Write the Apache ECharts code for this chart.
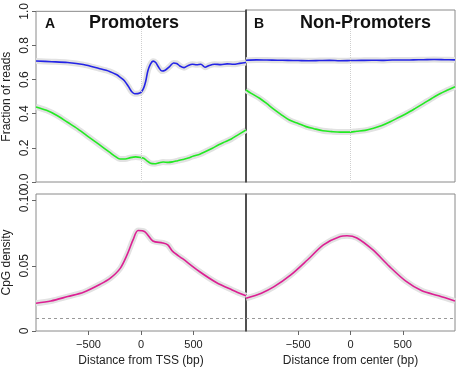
<!DOCTYPE html>
<html>
<head>
<meta charset="utf-8">
<script src="https://cdn.jsdelivr.net/npm/echarts@6/dist/echarts.min.js"></script>
<style>
  html, body { margin: 0; padding: 0; background: #fff; }
  #main { width: 459px; height: 370px; }
</style>
</head>
<body>
<div id="main"></div>
<script>
// distance (bp) and value pairs
const promBlue = [[-1000,0.709],[-850,0.705],[-700,0.70],[-550,0.688],[-400,0.665],[-300,0.648],[-230,0.628],[-200,0.615],
  [-160,0.595],[-120,0.56],[-90,0.53],[-60,0.517],[-30,0.518],[0,0.525],[25,0.55],[45,0.59],[65,0.65],[90,0.69],[115,0.708],
  [140,0.70],[165,0.675],[200,0.65],[230,0.655],[270,0.675],[310,0.697],[340,0.695],[370,0.68],[410,0.67],[450,0.683],
  [490,0.69],[530,0.687],[570,0.69],[610,0.672],[650,0.683],[700,0.69],[760,0.688],[820,0.692],[880,0.69],[940,0.695],[1000,0.70]];
const promGreen = [[-1000,0.44],[-900,0.42],[-800,0.39],[-700,0.35],[-600,0.31],[-500,0.265],[-400,0.22],[-300,0.175],
  [-250,0.152],[-200,0.135],[-150,0.135],[-100,0.143],[-50,0.147],[0,0.143],[30,0.138],[60,0.122],[90,0.11],[130,0.107],
  [170,0.112],[210,0.117],[260,0.115],[300,0.118],[350,0.125],[400,0.132],[450,0.14],[500,0.152],[560,0.163],[620,0.18],
  [680,0.198],[740,0.218],[800,0.235],[860,0.252],[920,0.275],[1000,0.305]];
const nonBlue = [[-1000,0.708],[-900,0.71],[-800,0.709],[-700,0.708],[-600,0.707],[-500,0.706],[-400,0.705],[-300,0.706],
  [-200,0.707],[-100,0.705],[0,0.706],[100,0.707],[200,0.708],[300,0.707],[400,0.709],[500,0.709],[600,0.71],[700,0.711],
  [800,0.712],[900,0.711],[1000,0.71]];
const nonGreen = [[-1000,0.535],[-950,0.515],[-870,0.487],[-800,0.455],[-745,0.428],[-670,0.395],[-585,0.36],[-500,0.34],
  [-425,0.322],[-350,0.31],[-265,0.298],[-180,0.293],[-100,0.29],[-20,0.29],[60,0.295],[140,0.30],[220,0.312],[300,0.328],
  [380,0.35],[460,0.375],[540,0.40],[620,0.428],[700,0.457],[780,0.487],[860,0.515],[930,0.535],[1000,0.554]];
const promCpG = [[-1000,0.0213],[-858,0.023],[-698,0.0264],[-547,0.0297],[-387,0.0359],[-292,0.0405],[-198,0.048],
  [-132,0.0585],[-75,0.07],[-28,0.077],[38,0.076],[113,0.069],[207,0.0675],[255,0.066],[302,0.061],[396,0.0554],
  [556,0.0456],[717,0.0372],[868,0.0315],[1000,0.027]];
const nonCpG = [[-1000,0.0251],[-853,0.029],[-731,0.034],[-571,0.043],[-410,0.0546],[-259,0.066],[-99,0.0725],[-33,0.073],
  [61,0.0713],[212,0.0623],[372,0.0495],[533,0.038],[683,0.0308],[844,0.027],[1000,0.023]];
const cpgBackground = 0.009;
const fracTicks = [0, 0.2, 0.4, 0.6, 0.8, 1.0];
const cpgTicks = [0, 0.05, 0.1];
const distTicks = [-500, 0, 500];

const font = "'Liberation Sans', Arial, sans-serif";
const blue = '#2424e6', green = '#22ea22', pink = '#dc1f93';

const grids = [
  { left: 36, top: 10, width: 210, height: 172 },
  { left: 246, top: 10, width: 209, height: 172 },
  { left: 36, top: 194, width: 210, height: 137 },
  { left: 246, top: 194, width: 209, height: 137 }
].map(g => Object.assign(g, { show: true, borderColor: '#8a8a8a', borderWidth: 1 }));

function xAx(i, name) {
  const bottom = i >= 2;
  return {
    type: 'value', gridIndex: i, min: -1000, max: 1000,
    name: bottom ? name : '', nameLocation: 'middle', nameGap: 24,
    nameTextStyle: { fontFamily: font, fontSize: 12, color: '#222' },
    axisLine: { show: false, onZero: false }, splitLine: { show: false },
    axisTick: { show: bottom, length: 4, lineStyle: { color: '#666' }, customValues: distTicks },
    axisLabel: { show: bottom, fontFamily: font, fontSize: 11, color: '#222', margin: 8,
      customValues: distTicks, formatter: v => v < 0 ? '\u2212' + Math.abs(v) : String(v) }
  };
}
function yAx(i) {
  const top = i < 2, left = i % 2 === 0;
  const ticks = top ? fracTicks : cpgTicks;
  return {
    type: 'value', gridIndex: i, min: 0, max: top ? 1 : 0.105,
    name: left ? (top ? 'Fraction of reads' : 'CpG density') : '',
    nameLocation: 'middle', nameGap: 23,
    nameTextStyle: { fontFamily: font, fontSize: 12, color: '#222' },
    axisLine: { show: !left, onZero: false, lineStyle: { color: '#333', width: 1.5 } },
    splitLine: { show: false },
    axisTick: { show: left, length: 4, lineStyle: { color: '#666' }, customValues: ticks },
    axisLabel: { show: left, rotate: 90, fontFamily: font, fontSize: 12, color: '#222', margin: 5,
      customValues: ticks, formatter: v => top ? v.toFixed(1) : (v === 0 ? '0' : v.toFixed(2)) }
  };
}

// thin coloured line over a pale grey halo standing in for the confidence band
function curve(i, data, color, extra) {
  return [
    { type: 'line', xAxisIndex: i, yAxisIndex: i, data: data, symbol: 'none', smooth: 0.3, silent: true,
      lineStyle: { color: '#e2e2e2', width: 6 }, z: 1 },
    Object.assign({ type: 'line', xAxisIndex: i, yAxisIndex: i, data: data, symbol: 'none', smooth: 0.3,
      lineStyle: { color: color, width: 1.6 }, z: 3 }, extra || {})
  ];
}
const centerLine = { markLine: { silent: true, symbol: 'none', label: { show: false },
  lineStyle: { color: '#cfcfcf', type: 'dotted', width: 1 }, data: [{ xAxis: 0 }] } };
const bgLine = { markLine: { silent: true, symbol: 'none', label: { show: false },
  lineStyle: { color: '#999', type: [3, 3], width: 1 }, data: [{ yAxis: cpgBackground }] } };

const titleStyle = size => ({ fontFamily: font, fontSize: size, fontWeight: 'bold', color: '#111' });
const option = {
  animation: false,
  grid: grids,
  xAxis: [xAx(0), xAx(1), xAx(2, 'Distance from TSS (bp)'), xAx(3, 'Distance from center (bp)')],
  yAxis: [yAx(0), yAx(1), yAx(2), yAx(3)],
  title: [
    { text: 'A', left: 45, top: 17, padding: 0, textStyle: titleStyle(14) },
    { text: 'Promoters', left: 89, top: 14, padding: 0, textStyle: titleStyle(18) },
    { text: 'B', left: 254, top: 17, padding: 0, textStyle: titleStyle(14) },
    { text: 'Non-Promoters', left: 300, top: 14, padding: 0, textStyle: titleStyle(18) }
  ],
  series: [].concat(
    curve(0, promBlue, blue, centerLine),
    curve(0, promGreen, green),
    curve(1, nonBlue, blue, centerLine),
    curve(1, nonGreen, green),
    curve(2, promCpG, pink, bgLine),
    curve(3, nonCpG, pink, bgLine)
  )
};

const chart = echarts.init(document.getElementById('main'), null, { renderer: 'canvas' });
chart.setOption(option);
</script>
</body>
</html>
